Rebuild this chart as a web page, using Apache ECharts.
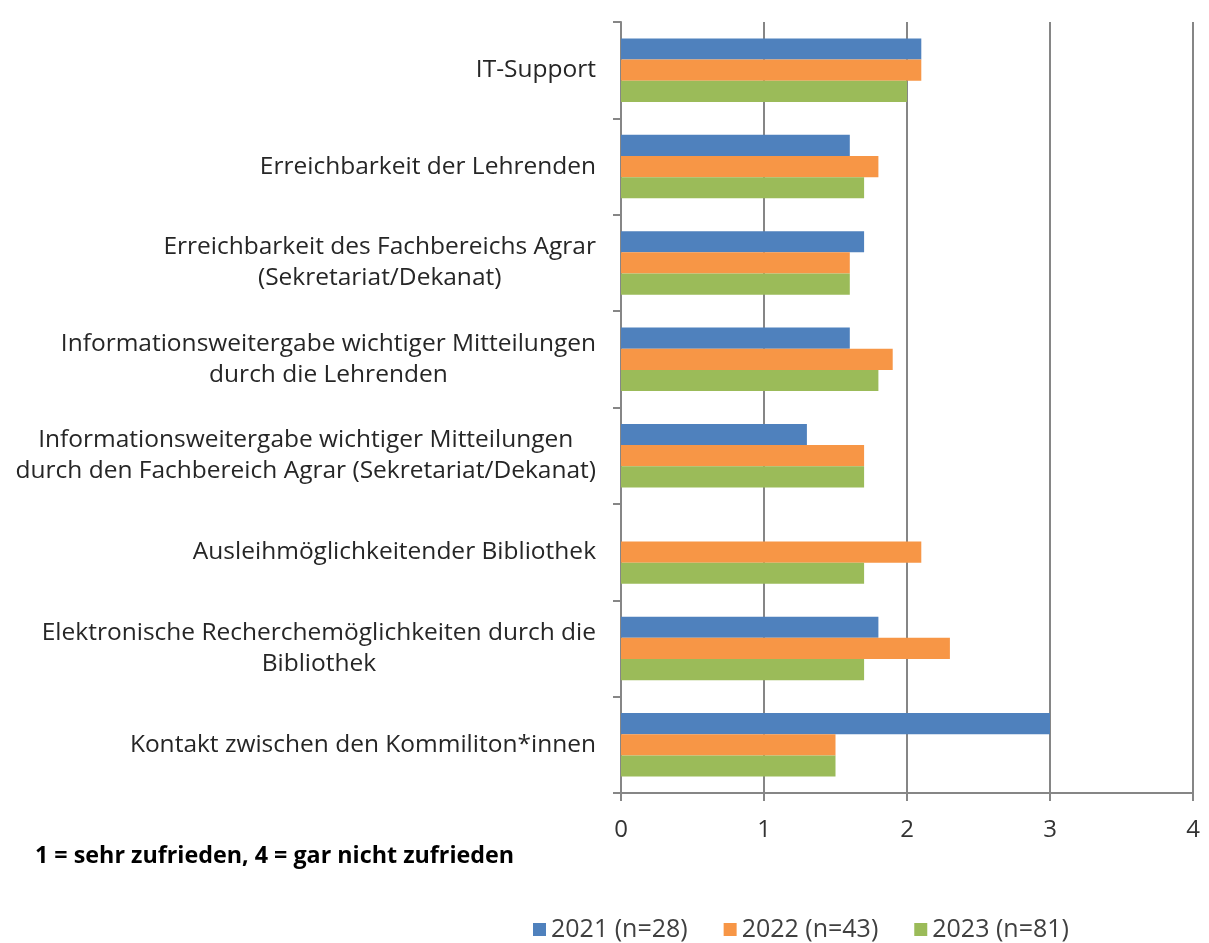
<!DOCTYPE html>
<html>
<head>
    <meta charset="utf-8">
    <title>Zufriedenheit</title>
    <script src="https://cdn.jsdelivr.net/npm/echarts@6/dist/echarts.min.js"></script>
    <style>
        html, body { margin: 0; padding: 0; background: #fff; }
        #main { width: 1209px; height: 943px; }
    </style>
</head>
<body>
    <div id="main"></div>
    <script type="text/javascript">
        // Kategorien von oben nach unten
        var categories = [
            'IT-Support',
            'Erreichbarkeit der Lehrenden',
            'Erreichbarkeit des Fachbereichs Agrar\n(Sekretariat/Dekanat)',
            'Informationsweitergabe wichtiger Mitteilungen\ndurch die Lehrenden',
            'Informationsweitergabe wichtiger Mitteilungen\ndurch den Fachbereich Agrar (Sekretariat/Dekanat)',
            'Ausleihmöglichkeitender Bibliothek',
            'Elektronische Recherchemöglichkeiten durch die\nBibliothek',
            'Kontakt zwischen den Kommiliton*innen'
        ];
        var seriesNames = ['2021 (n=28)', '2022 (n=43)', '2023 (n=81)'];
        var values2021 = [2.1, 1.6, 1.7, 1.6, 1.3, null, 1.8, 3.0];
        var values2022 = [2.1, 1.8, 1.6, 1.9, 1.7, 2.1, 2.3, 1.5];
        var values2023 = [2.0, 1.7, 1.6, 1.8, 1.7, 1.7, 1.7, 1.5];
        var colors = ['#4F81BD', '#F79646', '#9BBB59'];

        var myChart = echarts.init(document.getElementById('main'));
        var font = '"Open Sans", Lato, sans-serif';

        function bar(name, data, i) {
            return {
                name: name,
                type: 'bar',
                data: data,
                barGap: '0%',
                barCategoryGap: '34%',
                itemStyle: { color: colors[i] },
                emphasis: { disabled: true }
            };
        }

        var option = {
            animation: false,
            textStyle: { fontFamily: font },
            grid: { left: 621, right: 16, top: 22, bottom: 150, containLabel: false },
            graphic: [{
                type: 'text',
                left: 35,
                top: 845,
                style: {
                    text: '1 = sehr zufrieden, 4 = gar nicht zufrieden',
                    font: 'bold 23.3px ' + font,
                    fill: '#000'
                }
            }],
            legend: {
                data: seriesNames,
                left: 533,
                top: 917,
                padding: 0,
                itemWidth: 13,
                itemHeight: 13,
                itemGap: 36,
                icon: 'rect',
                textStyle: { fontSize: 25, color: '#404040', fontFamily: font }
            },
            xAxis: {
                type: 'value',
                min: 0,
                max: 4,
                interval: 1,
                axisLine: { show: true, lineStyle: { color: '#868686', width: 2 } },
                axisTick: { show: true, length: 8, lineStyle: { color: '#868686', width: 2 } },
                axisLabel: { fontSize: 24, color: '#333', margin: 25 },
                splitLine: { show: true, lineStyle: { color: '#868686', width: 2 } }
            },
            yAxis: {
                type: 'category',
                data: categories,
                inverse: true,
                axisLine: { show: true, lineStyle: { color: '#868686', width: 2 } },
                axisTick: { show: true, length: 8, lineStyle: { color: '#868686', width: 2 } },
                axisLabel: {
                    margin: 25,
                    align: 'right',
                    // Zeilen innerhalb des Blocks zentrieren
                    formatter: function (v) {
                        return v.split('\n').map(function (s) { return '{c|' + s + '}'; }).join('\n');
                    },
                    rich: {
                        c: { fontSize: 24.5, color: '#262626', lineHeight: 31, align: 'center', fontFamily: font }
                    }
                }
            },
            series: [
                bar(seriesNames[0], values2021, 0),
                bar(seriesNames[1], values2022, 1),
                bar(seriesNames[2], values2023, 2)
            ]
        };
        myChart.setOption(option);
    </script>
</body>
</html>
